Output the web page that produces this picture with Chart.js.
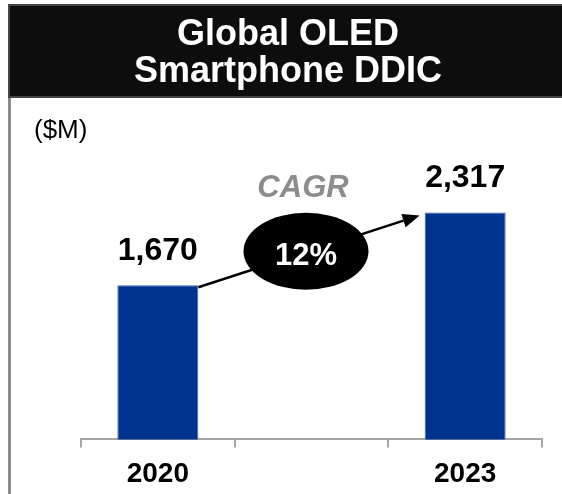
<!DOCTYPE html>
<html>
<head>
<meta charset="utf-8">
<script src="https://cdn.jsdelivr.net/npm/chart.js@4.4.1/dist/chart.umd.min.js"></script>
<style>
  html, body { margin: 0; padding: 0; background: #fff; }
  #wrap { width: 562px; height: 494px; position: relative; }
</style>
</head>
<body>
<div id="wrap"><canvas id="ddic"></canvas></div>
<script>
const titleLines = ['Global OLED', 'Smartphone DDIC'];
const unitLabel = '($M)';
const categories = ['2020', '', '2023'];
const revenue = [1670, null, 2317];
const valueLabels = ['1,670', '', '2,317'];
const cagrTitle = 'CAGR';
const cagrValue = '12%';

const FONT = "'Liberation Sans', Arial, sans-serif";

// header banner, unit label, value labels, CAGR arrow + bubble
const decorations = {
    id: 'decorations',
    beforeDraw: function(chart) {
        const ctx = chart.ctx;
        ctx.save();
        // left rule
        ctx.fillStyle = '#8c8c8c';
        ctx.fillRect(8, 97, 3, chart.height - 97);
        // banner
        ctx.fillStyle = '#0d0d0d';
        ctx.fillRect(8, 5, chart.width - 8, 92);
        ctx.strokeStyle = '#444';
        ctx.lineWidth = 2;
        ctx.beginPath();
        ctx.moveTo(8, 5); ctx.lineTo(chart.width, 5);
        ctx.moveTo(8, 97); ctx.lineTo(chart.width, 97);
        ctx.moveTo(9, 5); ctx.lineTo(9, 97);
        ctx.stroke();

        ctx.fillStyle = '#fff';
        ctx.font = 'bold 36px ' + FONT;
        ctx.textAlign = 'center';
        ctx.textBaseline = 'alphabetic';
        ctx.fillText(titleLines[0], 288, 45);
        ctx.fillText(titleLines[1], 288, 82);

        ctx.fillStyle = '#000';
        ctx.font = '26px ' + FONT;
        ctx.textAlign = 'left';
        ctx.fillText(unitLabel, 34, 138);
        ctx.restore();
    },
    afterDatasetsDraw: function(chart) {
        const ctx = chart.ctx;
        const bars = chart.getDatasetMeta(0).data;
        ctx.save();
        ctx.fillStyle = '#000';
        ctx.font = 'bold 32px ' + FONT;
        ctx.textAlign = 'center';
        ctx.textBaseline = 'alphabetic';
        revenue.forEach((v, i) => {
            if (v === null) return;
            ctx.fillText(valueLabels[i], bars[i].x, bars[i].y - 25);
        });

        // arrow from first bar to last bar
        const a = bars[0], b = bars[bars.length - 1];
        const x0 = a.x + a.width / 2, y0 = a.y + 2;
        const x1 = b.x - b.width / 2 - 5, y1 = b.y + 3;
        const ang = Math.atan2(y1 - y0, x1 - x0);
        const head = 17, half = 7;
        ctx.strokeStyle = '#000';
        ctx.lineWidth = 2.5;
        ctx.beginPath();
        ctx.moveTo(x0, y0);
        ctx.lineTo(x1 - head * Math.cos(ang), y1 - head * Math.sin(ang));
        ctx.stroke();
        ctx.beginPath();
        ctx.moveTo(x1, y1);
        ctx.lineTo(x1 - head * Math.cos(ang) - half * Math.sin(ang), y1 - head * Math.sin(ang) + half * Math.cos(ang));
        ctx.lineTo(x1 - head * Math.cos(ang) + half * Math.sin(ang), y1 - head * Math.sin(ang) - half * Math.cos(ang));
        ctx.closePath();
        ctx.fill();

        // CAGR bubble
        const cx = (x0 + x1) / 2 - 3, cy = (y0 + y1) / 2;
        ctx.beginPath();
        ctx.ellipse(cx, cy, 62.5, 38.5, 0, 0, Math.PI * 2);
        ctx.fill();
        ctx.fillStyle = '#fff';
        ctx.font = 'bold 31px ' + FONT;
        ctx.fillText(cagrValue, cx, cy + 13.5);

        ctx.fillStyle = '#8c8c8c';
        ctx.font = 'italic bold 31px ' + FONT;
        ctx.fillText(cagrTitle, cx - 3, cy - 54.5);
        ctx.restore();
    }
};

new Chart(document.getElementById('ddic'), {
    type: 'bar',
    data: {
        labels: categories,
        datasets: [{
            data: revenue,
            backgroundColor: '#00338d',
            borderColor: '#3a5fae',
            borderWidth: 1,
            categoryPercentage: 1,
            barPercentage: 0.527
        }]
    },
    options: {
        responsive: true,
        maintainAspectRatio: false,
        animation: false,
        layout: { padding: { left: 81, right: 20, top: 113, bottom: -7 } },
        plugins: {
            legend: { display: false },
            title: { display: false },
            tooltip: { enabled: false }
        },
        scales: {
            x: {
                grid: { drawOnChartArea: false, drawTicks: true, tickLength: 8, color: '#a6a6a6', lineWidth: 2 },
                border: { display: true, color: '#a6a6a6', width: 2 },
                ticks: { color: '#000', padding: 10, font: { family: FONT, size: 28, weight: 'bold' } }
            },
            y: {
                display: false,
                min: 300,
                max: 3200
            }
        }
    },
    plugins: [decorations]
});
</script>
</body>
</html>
